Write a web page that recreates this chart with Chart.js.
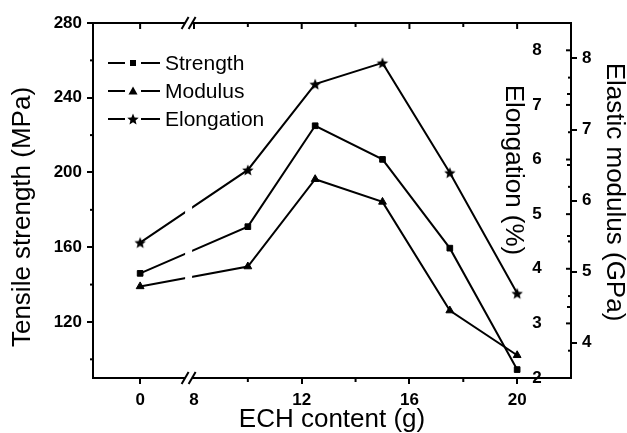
<!DOCTYPE html>
<html>
<head>
<meta charset="utf-8">
<script src="https://cdn.jsdelivr.net/npm/chart.js@4.4.1/dist/chart.umd.min.js"></script>
<style>
  html, body { margin: 0; padding: 0; background: #fff; }
</style>
</head>
<body>
<canvas id="chart" width="627" height="433"></canvas>
<script>
// ECH content (g) of each sample
const ech = [0, 10, 12.5, 15, 17.5, 20];
const strength = [146, 171, 225, 207, 159.5, 94.5];      // MPa
const modulus = [4.79, 5.07, 6.30, 5.98, 4.45, 3.82];    // GPa
const elongation = [4.48, 5.81, 7.38, 7.77, 5.76, 3.55]; // %

const xTicks = [0, 8, 12, 16, 20];
const xMinor = [10, 14, 18];
const strengthTicks = [120, 160, 200, 240, 280];
const strengthMinor = [100, 140, 180, 220, 260];
const modulusTicks = [4, 5, 6, 7, 8];
const modulusMinor = [4.5, 5.5, 6.5, 7.5];
const elongTicks = [2, 3, 4, 5, 6, 7, 8];
const elongMinor = [2.5, 3.5, 4.5, 5.5, 6.5, 7.5];

// broken x axis: the 0 sample sits 2 units left of 8
const BREAK_SHIFT = 6;
const BREAK_AT = 7.8;
const xpos = v => v < 8 ? v + BREAK_SHIFT : v;

const FONT = "'Liberation Sans', Arial, sans-serif";
const tickFont = { family: FONT, size: 17, weight: 'bold' };

function makeStar(r) {
  const c = document.createElement('canvas');
  const s = Math.ceil(r * 2 + 2);
  c.width = c.height = s;
  const g = c.getContext('2d');
  g.fillStyle = '#000';
  g.beginPath();
  for (let i = 0; i < 10; i++) {
    const rad = i % 2 ? r * 0.45 : r;
    const a = -Math.PI / 2 + i * Math.PI / 5;
    g.lineTo(s / 2 + rad * Math.cos(a), s / 2 + rad * Math.sin(a) + r * 0.1);
  }
  g.closePath();
  g.fill();
  return c;
}
const star = makeStar(6);

function line(ctx, x1, y1, x2, y2) {
  ctx.beginPath();
  ctx.moveTo(x1, y1);
  ctx.lineTo(x2, y2);
  ctx.stroke();
}

function vtext(ctx, text, x, y, rot) {
  ctx.save();
  ctx.translate(x, y);
  ctx.rotate(rot);
  ctx.fillText(text, 0, 0);
  ctx.restore();
}

const decor = {
  id: 'decor',
  beforeDraw(chart) {
    const ctx = chart.ctx;
    ctx.save();
    ctx.fillStyle = '#fff';
    ctx.fillRect(0, 0, chart.width, chart.height);
    ctx.restore();
  },
  afterDraw(chart) {
    const { ctx, chartArea: a, scales } = chart;
    ctx.save();
    ctx.strokeStyle = '#000';
    ctx.fillStyle = '#000';
    ctx.lineWidth = 2;

    // minor ticks
    strengthMinor.forEach(v => {
      const y = scales.y.getPixelForValue(v);
      line(ctx, a.left - 3, y, a.left, y);
    });
    xMinor.forEach(v => {
      const x = scales.x.getPixelForValue(v);
      line(ctx, x, a.bottom, x, a.bottom + 4);
      line(ctx, x, a.top, x, a.top + 4);
    });
    xTicks.forEach(v => {
      const x = scales.x.getPixelForValue(xpos(v));
      line(ctx, x, a.top, x, a.top + 6);
    });
    modulusMinor.forEach(v => {
      const y = scales.yM.getPixelForValue(v);
      line(ctx, a.right - 4, y, a.right, y);
    });
    elongTicks.forEach(v => {
      const y = scales.yE.getPixelForValue(v);
      line(ctx, a.right - 5, y, a.right, y);
    });
    elongMinor.forEach(v => {
      const y = scales.yE.getPixelForValue(v);
      line(ctx, a.right - 3, y, a.right, y);
    });

    // elongation axis labels sit inside the plot
    ctx.font = 'bold 17px ' + FONT;
    ctx.textAlign = 'center';
    ctx.textBaseline = 'middle';
    elongTicks.forEach(v => ctx.fillText(String(v), a.right - 34, scales.yE.getPixelForValue(v)));

    // vertical axis titles
    ctx.font = '26px ' + FONT;
    vtext(ctx, 'Tensile strength (MPa)', 22.5, 217, -Math.PI / 2);
    vtext(ctx, 'Elongation (%)', a.right - 58, 170, Math.PI / 2);
    vtext(ctx, 'Elastic modulus (GPa)', 614, 192, Math.PI / 2);

    // axis break
    const bx = scales.x.getPixelForValue(BREAK_AT);
    ctx.fillStyle = '#fff';
    ctx.fillRect(bx - 3.5, a.top - 8, 7, a.bottom - a.top + 16);
    [a.top, a.bottom].forEach(y => {
      line(ctx, bx - 7, y + 6, bx, y - 6);
      line(ctx, bx, y + 6, bx + 7, y - 6);
    });

    // legend
    const rows = [
      { label: 'Strength', mark: 'rect' },
      { label: 'Modulus', mark: 'triangle' },
      { label: 'Elongation', mark: 'star' }
    ];
    ctx.fillStyle = '#000';
    ctx.font = '21px ' + FONT;
    ctx.textAlign = 'left';
    rows.forEach((r, i) => {
      const y = 63 + i * 28;
      line(ctx, 108, y, 125, y);
      line(ctx, 141, y, 160, y);
      if (r.mark === 'rect') {
        ctx.fillRect(130, y - 3, 6, 6);
      } else if (r.mark === 'triangle') {
        ctx.beginPath();
        ctx.moveTo(133, y - 4.5);
        ctx.lineTo(137.5, y + 3.5);
        ctx.lineTo(128.5, y + 3.5);
        ctx.closePath();
        ctx.fill();
      } else {
        ctx.drawImage(star, 133 - star.width / 2, y - star.height / 2);
      }
      ctx.fillText(r.label, 165, y + 1);
    });
    ctx.restore();
  }
};

const lineStyle = {
  borderColor: '#000',
  backgroundColor: '#000',
  borderWidth: 2,
  pointBackgroundColor: '#000',
  pointBorderColor: '#000',
  pointBorderWidth: 1,
  tension: 0,
  fill: false
};

new Chart(document.getElementById('chart'), {
  type: 'line',
  data: {
    datasets: [
      {
        ...lineStyle,
        label: 'Strength',
        data: ech.map((c, i) => ({ x: xpos(c), y: strength[i] })),
        yAxisID: 'y',
        pointStyle: 'rect',
        pointRadius: 4
      },
      {
        ...lineStyle,
        label: 'Modulus',
        data: ech.map((c, i) => ({ x: xpos(c), y: modulus[i] })),
        yAxisID: 'yM',
        pointStyle: 'triangle',
        pointRadius: 4.5
      },
      {
        ...lineStyle,
        label: 'Elongation',
        data: ech.map((c, i) => ({ x: xpos(c), y: elongation[i] })),
        yAxisID: 'yE',
        pointStyle: star,
        pointRadius: 5
      }
    ]
  },
  options: {
    responsive: false,
    animation: false,
    layout: { padding: 0 },
    plugins: {
      legend: { display: false },
      tooltip: { enabled: false }
    },
    scales: {
      x: {
        type: 'linear',
        position: 'bottom',
        min: 4.25,
        max: 22,
        afterBuildTicks: s => { s.ticks = xTicks.map(v => ({ value: xpos(v) })); },
        afterFit: s => { s.height = 55; },
        ticks: {
          font: tickFont,
          color: '#000',
          padding: 6,
          autoSkip: false,
          maxRotation: 0,
          callback: v => String(v < 8 ? v - BREAK_SHIFT : v)
        },
        grid: {
          drawOnChartArea: false,
          tickLength: 6,
          lineWidth: 2,
          color: '#000',
          tickColor: c => (c.tick && c.tick.value === 8) ? 'rgba(0,0,0,0)' : '#000'
        },
        border: { display: true, color: '#000', width: 2 },
        title: {
          display: true,
          text: 'ECH content (g)',
          color: '#000',
          font: { family: FONT, size: 26, lineHeight: 1 },
          padding: { top: 0, bottom: 0 }
        }
      },
      xTop: {
        type: 'linear',
        position: 'top',
        min: 4.25,
        max: 22,
        afterFit: s => { s.height = 23; },
        ticks: { display: false },
        grid: { display: false },
        border: { display: true, color: '#000', width: 2 }
      },
      y: {
        type: 'linear',
        position: 'left',
        min: 90,
        max: 280,
        afterBuildTicks: s => { s.ticks = strengthTicks.map(v => ({ value: v })); },
        afterFit: s => { s.width = 93; },
        ticks: { font: tickFont, color: '#000', padding: 5 },
        grid: { drawOnChartArea: false, tickLength: 6, lineWidth: 2, color: '#000' },
        border: { display: true, color: '#000', width: 2 }
      },
      yM: {
        type: 'linear',
        position: 'right',
        min: 3.5,
        max: 8.5,
        afterBuildTicks: s => { s.ticks = modulusTicks.map(v => ({ value: v })); },
        afterFit: s => { s.width = 56; },
        ticks: { font: tickFont, color: '#000', padding: 5 },
        grid: { drawOnChartArea: false, tickLength: 6, lineWidth: 2, color: '#000' },
        border: { display: true, color: '#000', width: 2 }
      },
      yE: {
        type: 'linear',
        display: false,
        min: 2,
        max: 8.5
      }
    }
  },
  plugins: [decor]
});
</script>
</body>
</html>
